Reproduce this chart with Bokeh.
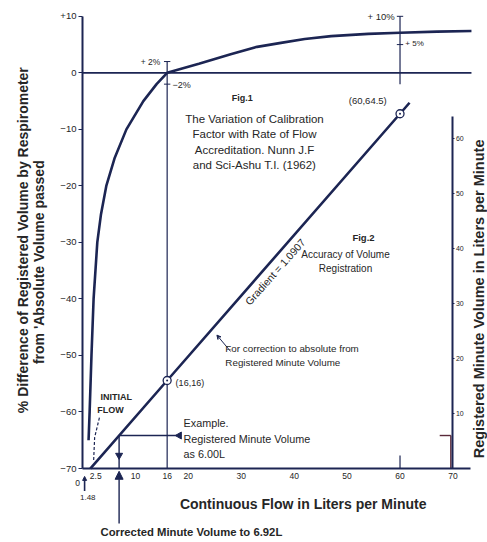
import math
from bokeh.plotting import figure
from bokeh.models import Range1d, LinearAxis, FixedTicker, Label, Arrow, NormalHead, VeeHead
from bokeh.embed import file_html
from bokeh.resources import INLINE

# ---------------- data ----------------
# Fig.1 : % difference of registered volume vs continuous flow
flow_fig1 = [1.15, 1.35, 1.7, 2.1, 2.8, 3.5, 4.5, 6.1, 8.3, 11.5, 14.0, 16.0, 22.0, 28.0, 33.0, 37.5, 42.0, 47.0, 54.0, 60.0, 67.0, 73.5]
pct_diff = [-65, -60, -50, -40, -30, -25, -20, -15, -10, -5, -2, 0, 1.6, 3.3, 4.6, 5.3, 6.0, 6.5, 6.9, 7.1, 7.3, 7.4]

# Fig.2 : registered minute volume vs continuous flow
flow_fig2 = [1.48, 16, 60, 61.8]
registered = [0, 16, 64.5, 66.5]
marked_flow = [16, 60]
marked_reg = [16, 64.5]

initial_flow_x = [3.2, 2.3, 2.1]
initial_flow_y = [-61, -64.5, -68.8]

example_registered = 6.00
example_corrected = 6.92

x_ticks = [2.5, 10, 16, 20, 30, 40, 50, 60, 70]
x_tick_labels = {2.5: "2.5", 10: "10", 16: "16", 20: "20", 30: "30", 40: "40", 50: "50", 60: "60", 70: "70"}
y_ticks = [-70, -60, -50, -40, -30, -20, -10, 0, 10]
y_tick_labels = {-70: "\u221270", -60: "\u221260", -50: "\u221250", -40: "\u221240", -30: "\u221230",
                 -20: "\u221220", -10: "\u221210", 0: "0", 10: "+10"}
r_ticks = [10, 20, 30, 40, 50, 60]

NAVY = "#1c2553"
TXT = "#262626"
FONT = "Liberation Sans"

p = figure(width=487, height=542, output_backend="svg", toolbar_location=None,
           x_range=Range1d(-15.49, 76.53), y_range=Range1d(-83.09, 12.80),
           x_axis_type=None, y_axis_type=None,
           min_border_left=0, min_border_right=0, min_border_top=0, min_border_bottom=0)
p.extra_y_ranges = {"right": Range1d(-13.45, 85.09)}
p.outline_line_color = None
p.title.visible = False

# axes (placed at fixed data locations inside the frame)
xa = LinearAxis(ticker=FixedTicker(ticks=x_ticks), major_label_overrides=x_tick_labels,
                bounds=(0, 73.3), fixed_location=-70)
xa.axis_line_color = NAVY
xa.axis_line_width = 2
xa.major_tick_line_color = None
xa.major_tick_out = 0
xa.major_tick_in = 0
xa.major_label_standoff = 4
xa.major_label_text_font = FONT
xa.major_label_text_font_size = "8.5px"
xa.major_label_text_color = TXT
p.add_layout(xa, "below")

ya = LinearAxis(ticker=FixedTicker(ticks=y_ticks), major_label_overrides=y_tick_labels,
                bounds=(-70, 10), fixed_location=0)
ya.axis_line_color = NAVY
ya.axis_line_width = 2
ya.major_tick_line_color = NAVY
ya.major_tick_out = 4
ya.major_tick_in = 0
ya.major_label_standoff = 2
ya.major_label_text_font = FONT
ya.major_label_text_font_size = "9.5px"
ya.major_label_text_color = TXT
p.add_layout(ya, "left")

ra = LinearAxis(y_range_name="right", ticker=FixedTicker(ticks=r_ticks), bounds=(0, 64), fixed_location=70)
ra.axis_line_color = NAVY
ra.axis_line_width = 2
ra.major_tick_line_color = NAVY
ra.major_tick_out = 2
ra.major_tick_in = 0
ra.major_label_standoff = 1
ra.major_label_text_font = FONT
ra.major_label_text_font_size = "7px"
ra.major_label_text_color = TXT
p.add_layout(ra, "right")

# reference lines
p.segment(x0=[0], y0=[0], x1=[73.5], y1=[0], line_color=NAVY, line_width=1.6)
p.segment(x0=[16], y0=[2], x1=[16], y1=[-70], line_color=NAVY, line_width=1.2)
p.segment(x0=[60], y0=[10], x1=[60], y1=[-2], line_color=NAVY, line_width=1.2)
# cross marks on the verticals
p.segment(x0=[15.4, 15.4, 59.4, 59.4], y0=[2, -2, 10, 5], x1=[16.6, 16.6, 60.6, 60.6], y1=[2, -2, 10, 5],
          line_color=NAVY, line_width=1)
p.segment(x0=[60], y0=[-70], x1=[60], y1=[-67.7], line_color=NAVY, line_width=1.2)

# Fig.1 curve
p.line(flow_fig1, pct_diff, line_color=NAVY, line_width=2.6)

# initial flow dashed
p.line(initial_flow_x, initial_flow_y, line_color=NAVY, line_width=1.2, line_dash="3 2")

# Fig.2 line
p.line(flow_fig2, registered, y_range_name="right", line_color=NAVY, line_width=2.6)
p.scatter(marked_flow, marked_reg, y_range_name="right", marker="circle_dot", size=8,
          fill_color="white", line_color=NAVY, line_width=1.3)

# example construction
p.segment(x0=[example_corrected], y0=[example_registered], x1=[18.6], y1=[example_registered],
          y_range_name="right", line_color=NAVY, line_width=1.4)
p.segment(x0=[example_corrected], y0=[example_registered], x1=[example_corrected], y1=[0],
          y_range_name="right", line_color=NAVY, line_width=1.4)
p.scatter([18.3], [example_registered], y_range_name="right", marker="triangle", angle=math.pi / 2,
          size=7, fill_color=NAVY, line_color=NAVY)
p.scatter([example_corrected], [2.4], y_range_name="right", marker="triangle", angle=math.pi,
          size=7, fill_color=NAVY, line_color=NAVY)
# mark at right axis
p.segment(x0=[67.5, 69.6], y0=[example_registered, example_registered], x1=[69.6, 69.6],
          y1=[example_registered, 0], y_range_name="right", line_color="#5a2a3a", line_width=1.4)

# arrows
p.add_layout(Arrow(end=NormalHead(size=8, fill_color=NAVY, line_color=NAVY),
                   x_start=example_corrected, y_start=-10.0, x_end=example_corrected, y_end=-0.5,
                   y_range_name="right", line_color=NAVY, line_width=1.4))
p.add_layout(Arrow(end=NormalHead(size=4, fill_color=NAVY, line_color=NAVY),
                   x_start=0.4, y_start=-74.0, x_end=0.4, y_end=-71.4,
                   line_color=NAVY, line_width=1.6))
p.add_layout(Arrow(end=VeeHead(size=4, line_color=NAVY, line_width=1), x_start=28.0, y_start=-49.3,
                   x_end=25.4, y_end=-46.4, line_color=NAVY, line_width=1))


def lab(x, y, text, size="8.5px", align="left", style="normal", angle=0.0):
    p.add_layout(Label(x=x, y=y, text=text, text_font=FONT, text_font_size=size, text_align=align,
                       text_baseline="middle", text_font_style=style, text_color=TXT, angle=angle))


# titles
lab(-11.15, -29.6, "% Difference of Registered Volume by Respirometer", size="14px", align="center",
    style="bold", angle=math.pi / 2)
lab(-8.3, -33.5, "from 'Absolute Volume passed", size="14px", align="center", style="bold",
    angle=math.pi / 2)
lab(74.9, -40.0, "Registered Minute Volume in Liters per Minute", size="14.5px", align="center",
    style="bold", angle=math.pi / 2)
lab(41.7, -76.2, "Continuous Flow in Liters per Minute", size="14px", align="center", style="bold")
lab(3.4, -81.3, "Corrected Minute Volume to 6.92L", size="11.3px", style="bold")

lab(-0.9, -72.6, "0", size="8.5px", align="center")
lab(1.0, -75.2, "1.48", size="8px", align="center")

# Fig.1 text
lab(30.2, -4.4, "Fig.1", size="9px", align="center", style="bold")
lab(32.5, -8.1, "The Variation of Calibration", size="11.5px", align="center")
lab(32.5, -10.75, "Factor with Rate of Flow", size="11.5px", align="center")
lab(32.5, -13.6, "Accreditation. Nunn J.F", size="11.5px", align="center")
lab(32.5, -16.25, "and Sci-Ashu T.I. (1962)", size="11.5px", align="center")

lab(59.0, 10.0, "+ 10%", size="9.5px", align="right")
lab(61.0, 5.2, "+ 5%", size="8px")
lab(14.7, 2.0, "+ 2%", size="8.5px", align="right")
lab(17.0, -2.1, "\u22122%", size="9px")

lab(53.9, -4.9, "(60,64.5)", size="9.5px", align="center")
lab(17.6, -54.8, "(16,16)", size="9px")

# Fig.2 text
lab(53.1, -29.1, "Fig.2", size="9.5px", align="center", style="bold")
lab(49.7, -32.1, "Accuracy of Volume", size="10px", align="center")
lab(49.7, -34.7, "Registration", size="10px", align="center")
lab(36.4, -35.2, "Gradient = 1.0907", size="10.5px", align="center", angle=0.845)

lab(27.0, -48.8, "For correction to absolute from", size="9.8px")
lab(27.0, -51.3, "Registered Minute Volume", size="9.8px")

lab(3.4, -57.4, "INITIAL", size="9px", style="bold")
lab(2.8, -59.7, "FLOW", size="9px", style="bold")

lab(19.1, -62.0, "Example.", size="10.8px")
lab(19.1, -64.7, "Registered Minute Volume", size="10.8px")
lab(19.1, -67.35, "as 6.00L", size="10.8px")

open("out.html", "w").write(file_html(p, INLINE))
